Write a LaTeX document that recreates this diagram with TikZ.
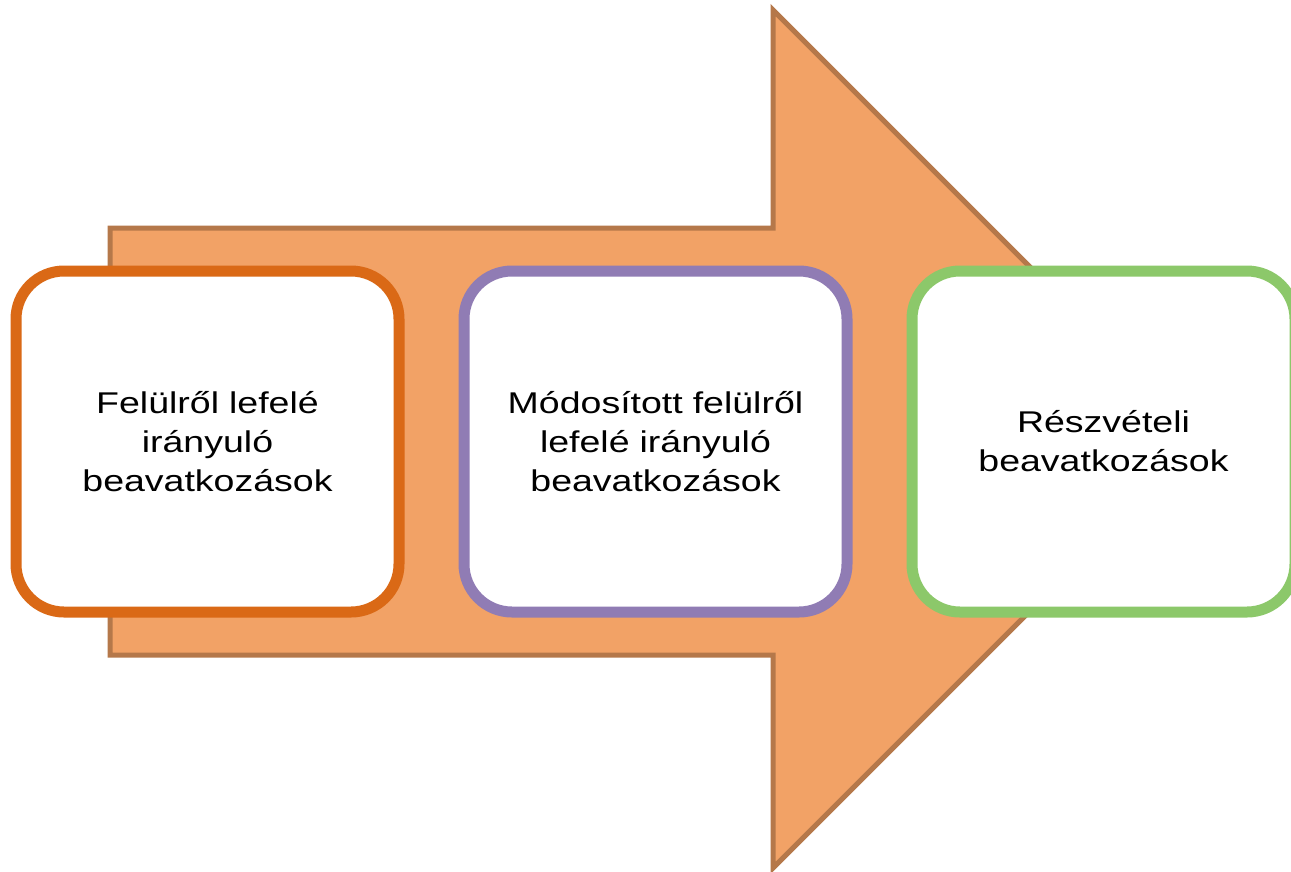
\documentclass[tikz,border=0pt]{standalone}
\usepackage{fontspec}
\setmainfont{Liberation Sans}
\newfontfamily\stagefont[FakeStretch=1.25]{Liberation Sans}
\definecolor{arrowfill}{RGB}{242,162,102}
\definecolor{arrowline}{RGB}{181,120,74}
\definecolor{topdown}{RGB}{218,105,22}
\definecolor{modified}{RGB}{144,124,180}
\definecolor{participatory}{RGB}{140,200,106}

\begin{document}
\begin{tikzpicture}[x=1pt, y=-1pt,
    stage/.style={draw, line width=11pt, fill=white, rounded corners=48pt,
      minimum width=383pt, minimum height=341pt, inner sep=0pt,
      align=center, text width=370pt,
      font=\stagefont\fontsize{30}{39}\selectfont}]
          \useasboundingbox (0,0) rectangle (1291,871);

          % big arrow behind the stages
          \filldraw[fill=arrowfill, draw=arrowline, line width=5pt]
            (110,228) -- (773,228) -- (773,10) -- (1202,439)
            -- (773,868) -- (773,655) -- (110,655) -- cycle;

          \node[stage, draw=topdown] (topdown) at (207.5,441.5)
            {Felülről lefelé\\irányuló\\beavatkozások};
          \node[stage, draw=modified] (modified) at (655.5,441.5)
            {Módosított felülről\\lefelé irányuló\\beavatkozások};
          \node[stage, draw=participatory] (participatory) at (1103.5,441.5)
            {Részvételi\\beavatkozások};

        \end{tikzpicture}
\end{document}
